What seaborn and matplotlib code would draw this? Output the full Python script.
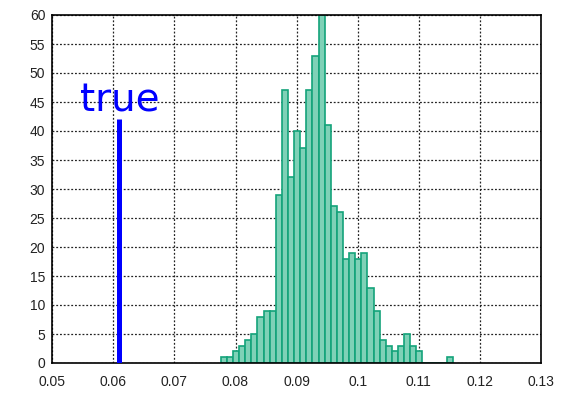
import matplotlib
matplotlib.use("Agg")
import matplotlib.pyplot as plt
import seaborn as sns
import pandas as pd

# histogram bin centres and counts
bin_centers = [0.0781, 0.0791, 0.0801, 0.0811, 0.0821, 0.0831, 0.0841, 0.0851,
               0.0861, 0.0871, 0.0881, 0.0891, 0.0901, 0.0911, 0.0921, 0.0931,
               0.0941, 0.0951, 0.0961, 0.0971, 0.0981, 0.0991, 0.1001, 0.1011,
               0.1021, 0.1031, 0.1041, 0.1051, 0.1061, 0.1071, 0.1081, 0.1091,
               0.1101, 0.1111, 0.1121, 0.1131, 0.1141, 0.1151]
counts = [1, 1, 2, 3, 4, 5, 8, 9,
          9, 29, 47, 32, 40, 37, 47, 53,
          60, 41, 27, 26, 18, 19, 18, 19,
          13, 9, 4, 3, 2, 3, 5, 3,
          2, 0, 0, 0, 0, 1]

true_value = 0.061
true_height = 42

x_ticks = [0.05, 0.06, 0.07, 0.08, 0.09, 0.10, 0.11, 0.12, 0.13]
x_tick_labels = ["0.05", "0.06", "0.07", "0.08", "0.09", "0.1", "0.11", "0.12", "0.13"]
y_ticks = [0, 5, 10, 15, 20, 25, 30, 35, 40, 45, 50, 55, 60]

df = pd.DataFrame({"value": bin_centers, "count": counts})

sns.set_style("white")
plt.rcParams["font.family"] = ["Liberation Sans", "DejaVu Sans"]

fig = plt.figure(figsize=(5.61, 3.94), dpi=100)
ax = fig.add_axes([52.2 / 561, 1 - 363 / 394, (541 - 52.2) / 561, (363 - 15) / 394])

sns.histplot(data=df, x="value", weights="count", bins=38,
             binrange=(0.0776, 0.1156), ax=ax,
             color="#7fd1b7", edgecolor="#14a37a", linewidth=1.2, alpha=1.0)

ax.plot([true_value, true_value], [0, true_height], color="#0000ff",
        linewidth=3.6, solid_capstyle="butt", zorder=3)
ax.text(0.0545, 43.3, "true", color="#0000ff", fontsize=28,
        family="DejaVu Sans", ha="left", va="baseline")

ax.set_xlim(0.05, 0.13)
ax.set_ylim(0, 60)
ax.set_xticks(x_ticks)
ax.set_xticklabels(x_tick_labels)
ax.set_yticks(y_ticks)
ax.set_xlabel("")
ax.set_ylabel("")

ax.set_axisbelow(True)
ax.grid(True, linestyle=(0, (1.5, 1.5)), color="#222222", linewidth=0.9)
for s in ax.spines.values():
    s.set_visible(True)
    s.set_color("black")
    s.set_linewidth(1.2)
ax.tick_params(axis="both", labelsize=10, colors="#222222", length=3,
               direction="in")
ax.tick_params(axis="x", pad=9)
ax.tick_params(axis="y", pad=5)

fig.savefig("out.png", dpi=100)
